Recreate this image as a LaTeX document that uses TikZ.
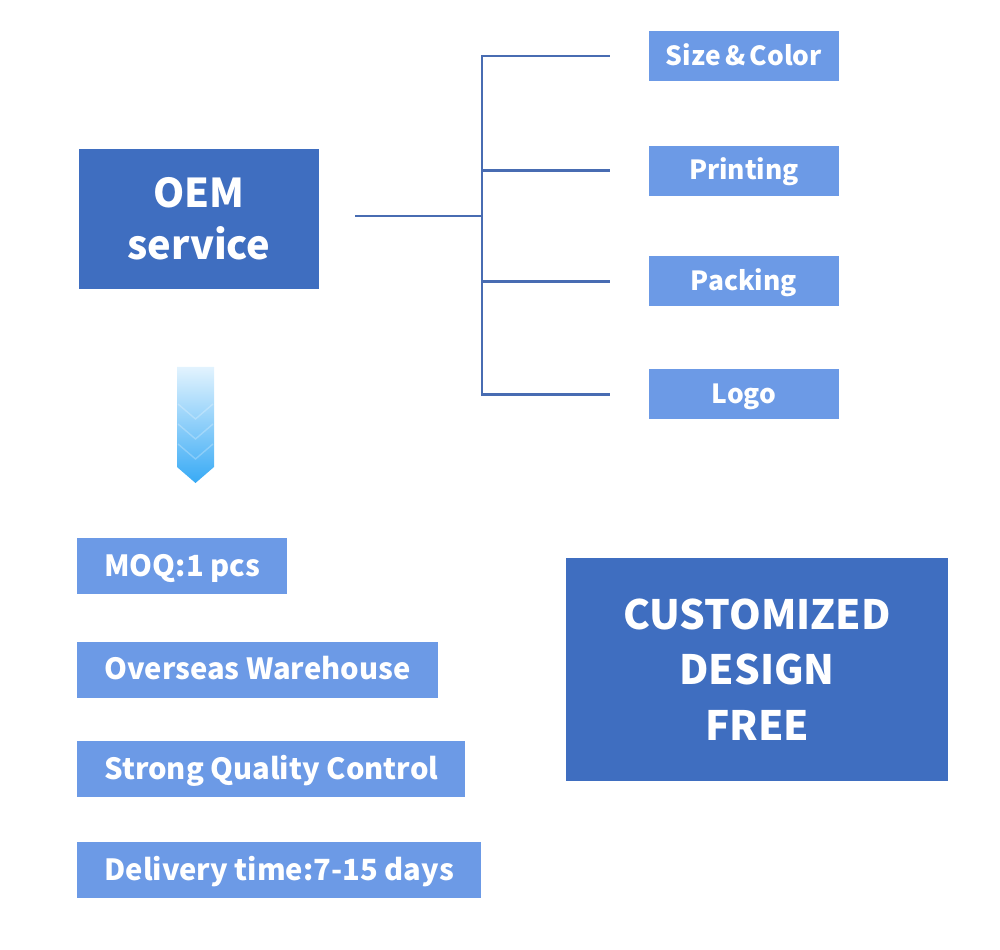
\documentclass[tikz,border=0pt]{standalone}
\usepackage{fontspec}
\setmainfont{Noto Sans CJK SC}
\usetikzlibrary{positioning}
\definecolor{biruTua}{RGB}{63,110,192}
\definecolor{biruMuda}{RGB}{108,154,230}
\definecolor{garis}{RGB}{72,108,178}
\definecolor{panahAtas}{RGB}{226,243,254}
\definecolor{panahBawah}{RGB}{56,170,245}

\begin{document}
\begin{tikzpicture}[
  bigbox/.style={fill=biruTua, text=white, align=center, font=\bfseries\fontsize{22.6}{29.5}\selectfont},
  tagbox/.style={fill=biruMuda, text=white, minimum width=3.8cm, minimum height=1cm,
    text height=10.5pt, text depth=0pt, font=\bfseries\fontsize{15}{18}\selectfont},
  listbox/.style={fill=biruMuda, text=white, minimum height=1.12cm, inner xsep=0.54cm,
    text height=11.6pt, text depth=0pt, font=\bfseries\fontsize{16.6}{20}\selectfont},
  link/.style={draw=garis, line width=1.7pt}
]
  \useasboundingbox (0,0) rectangle (20,18.98);

  % OEM block and its branches
  \node[bigbox, minimum width=4.8cm, minimum height=2.8cm] (oem) at (3.98,14.6) {OEM\\service};
  \node[tagbox] (size) at (14.88,17.86) {Size\,\&\,Color};
  \node[tagbox, below=1.28cm of size] (print) {Printing};
  \node[tagbox, below=1.2cm of print] (pack) {Packing};
  \node[tagbox, below=1.24cm of pack] (logo) {Logo};
  \coordinate (hub) at (9.64,14.66);

  \draw[link, shorten <=0.72cm] (oem.east |- hub) -- (hub);
  \draw[link, shorten >=0.78cm] (hub) |- (size);
  \draw[link, shorten >=0.78cm] (hub) |- (print);
  \draw[link, shorten >=0.78cm] (hub) |- (pack);
  \draw[link, shorten >=0.78cm] (hub) |- (logo);

  % down arrow
  \shade[top color=panahAtas, bottom color=panahBawah]
    (3.54,11.64) -- (4.28,11.64) -- (4.28,9.64) -- (3.91,9.32) -- (3.54,9.64) -- cycle;
  \foreach \y in {10.6,10.2,9.8}
    \draw[white, opacity=0.25, line width=0.8pt] (3.56,\y+0.3) -- (3.91,\y) -- (4.26,\y+0.3);

  % feature list
  \node[listbox, anchor=west] (moq) at (1.54,7.66) {MOQ:1 pcs};
  \node[listbox, below right=0.94cm and 0cm of moq.south west] (gudang) {Overseas Warehouse};
  \node[listbox, below right=0.86cm and 0cm of gudang.south west] (mutu) {Strong Quality Control};
  \node[listbox, below right=0.88cm and 0cm of mutu.south west] (kirim) {Delivery time:7-15 days};

  \node[bigbox, minimum width=7.64cm, minimum height=4.46cm,
    font=\bfseries\fontsize{23}{31.7}\selectfont] (desain) at (15.14,5.59) {CUSTOMIZED\\DESIGN\\FREE};
\end{tikzpicture}
\end{document}
